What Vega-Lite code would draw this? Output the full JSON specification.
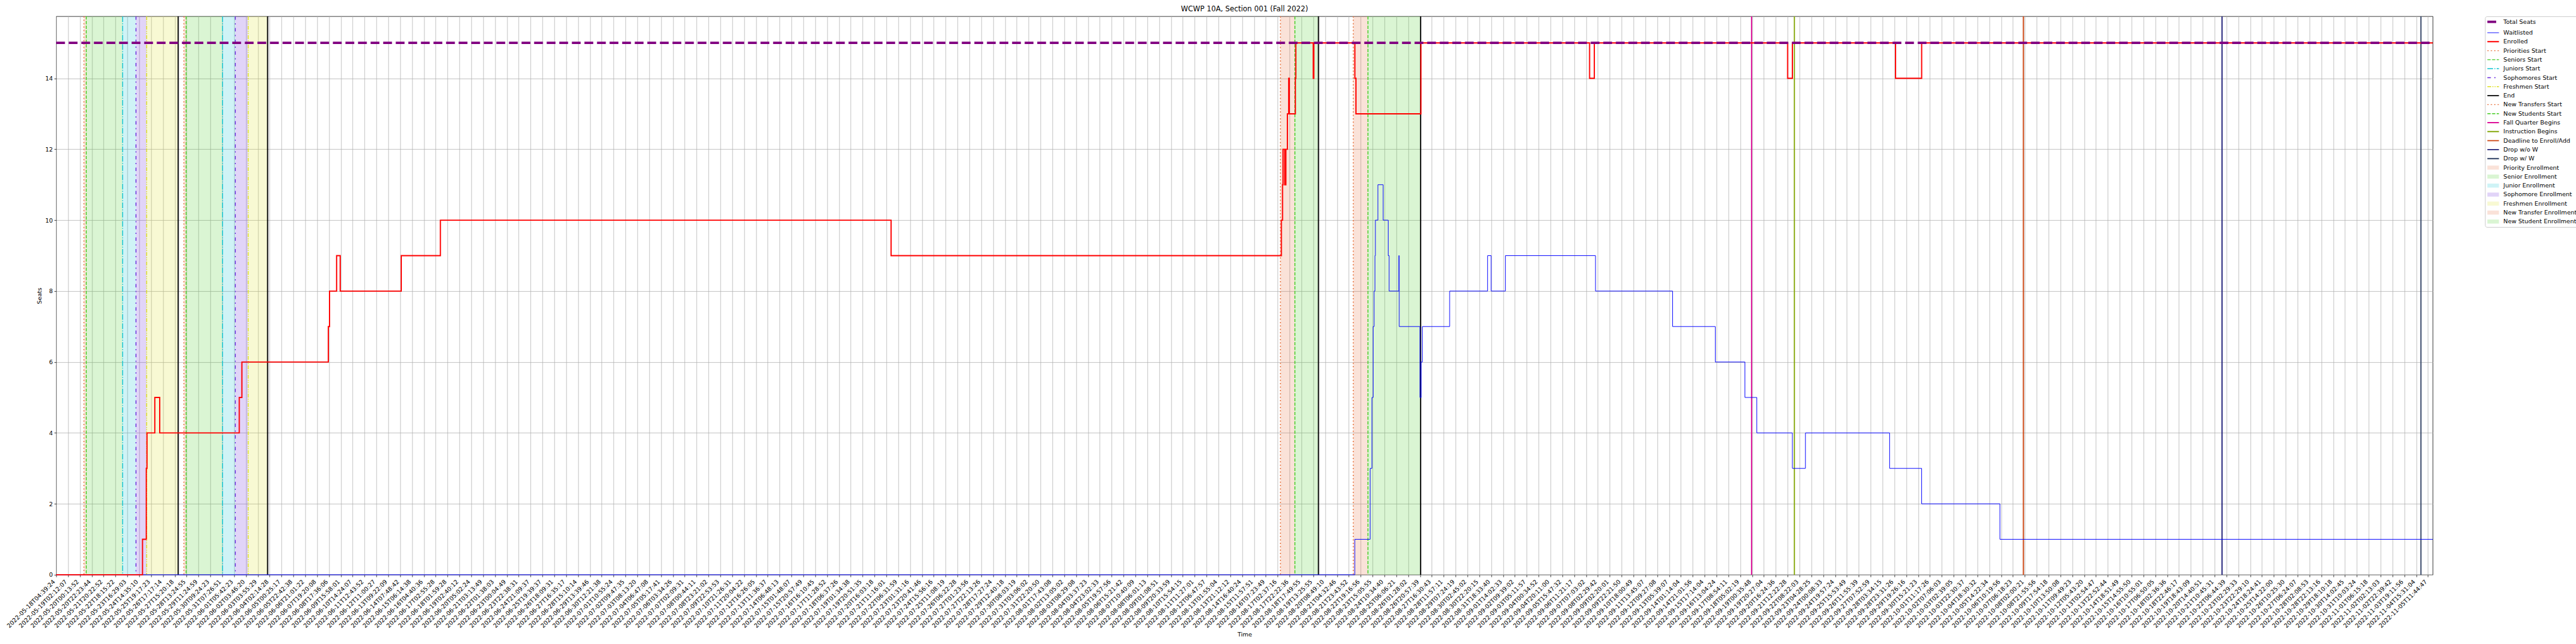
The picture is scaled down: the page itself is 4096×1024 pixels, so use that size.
{
  "$schema": "https://vega.github.io/schema/vega-lite/v6.json",
  "width": 3779,
  "height": 888,
  "autosize": {"type": "none"},
  "padding": {"left": 89.3, "top": 25.9, "right": 227.7, "bottom": 110.1},
  "background": "white",
  "params": [
    {"name": "tl", "value": [
"2022-05-18T04:39:24","2022-05-19T02:12:07","2022-05-20T00:13:52","2022-05-20T22:23:44","2022-05-21T20:22:52","2022-05-22T18:15:22","2022-05-23T16:29:03","2022-05-24T14:35:10","2022-05-25T19:17:23","2022-05-26T17:17:14",
"2022-05-27T15:20:18","2022-05-28T13:24:55","2022-05-29T11:24:59","2022-05-30T09:24:23","2022-05-31T07:26:51","2022-06-01T05:42:23","2022-06-02T03:46:20","2022-06-03T03:55:29","2022-06-04T02:14:28","2022-06-05T00:25:17",
"2022-06-05T22:42:38","2022-06-06T21:01:22","2022-06-07T19:20:08","2022-06-08T17:36:06","2022-06-09T15:58:01","2022-06-10T14:24:07","2022-06-11T12:43:52","2022-06-12T11:00:27","2022-06-13T09:22:09","2022-06-14T07:48:42",
"2022-06-15T06:14:38","2022-06-16T04:40:36","2022-06-17T02:55:28","2022-06-18T01:59:28","2022-06-19T02:40:12","2022-06-20T05:02:24","2022-06-21T03:13:49","2022-06-22T01:38:03","2022-06-23T00:04:49","2022-06-23T22:38:31",
"2022-06-24T21:09:37","2022-06-25T19:39:37","2022-06-26T18:09:31","2022-06-27T16:35:17","2022-06-28T15:10:14","2022-06-29T13:39:46","2022-06-30T12:21:38","2022-07-01T10:55:24","2022-07-02T09:47:35","2022-07-03T08:13:20",
"2022-07-04T06:47:08","2022-07-05T05:17:41","2022-07-06T03:34:26","2022-07-07T02:09:31","2022-07-08T00:44:11","2022-07-08T23:21:02","2022-07-09T22:53:53","2022-07-10T21:26:31","2022-07-11T20:04:22","2022-07-12T16:26:05",
"2022-07-13T11:36:37","2022-07-14T06:48:13","2022-07-15T01:48:07","2022-07-15T20:57:49","2022-07-16T16:10:45","2022-07-17T11:28:52","2022-07-18T06:37:26","2022-07-19T01:34:38","2022-07-19T20:51:35","2022-07-20T16:03:18",
"2022-07-21T11:16:01","2022-07-22T06:31:59","2022-07-23T01:31:16","2022-07-23T20:41:46","2022-07-24T15:56:16","2022-07-25T11:08:19","2022-07-26T06:22:28","2022-07-27T01:23:56","2022-07-27T22:13:26","2022-07-28T17:27:24",
"2022-07-29T12:40:18","2022-07-30T08:03:19","2022-07-31T03:06:02","2022-07-31T22:20:50","2022-08-01T17:43:08","2022-08-02T13:05:02","2022-08-03T08:29:08","2022-08-04T03:37:23","2022-08-04T23:02:33","2022-08-05T19:57:56",
"2022-08-06T15:21:42","2022-08-07T10:40:09","2022-08-08T06:01:13","2022-08-09T01:08:51","2022-08-09T20:33:59","2022-08-10T15:54:15","2022-08-11T11:27:01","2022-08-12T06:47:57","2022-08-13T01:55:04","2022-08-13T21:12:12",
"2022-08-14T16:40:24","2022-08-15T11:57:51","2022-08-16T07:23:49","2022-08-17T02:37:16","2022-08-17T22:22:36","2022-08-18T17:49:55","2022-08-19T13:25:55","2022-08-20T08:49:10","2022-08-21T04:32:46","2022-08-21T23:43:52",
"2022-08-22T19:16:56","2022-08-23T15:05:55","2022-08-24T10:34:40","2022-08-25T06:06:21","2022-08-26T01:28:02","2022-08-26T20:57:39","2022-08-27T16:30:43","2022-08-28T11:57:11","2022-08-29T07:24:19","2022-08-30T02:45:02",
"2022-08-30T22:20:15","2022-08-31T18:33:40","2022-09-01T14:02:33","2022-09-02T09:39:02","2022-09-03T05:11:57","2022-09-04T00:34:52","2022-09-04T20:11:00","2022-09-05T15:47:32","2022-09-06T11:21:17","2022-09-07T07:03:02",
"2022-09-08T02:29:42","2022-09-09T02:20:01","2022-09-09T22:21:50","2022-09-10T18:00:49","2022-09-11T13:45:07","2022-09-12T09:27:08","2022-09-13T05:39:07","2022-09-14T01:14:04","2022-09-14T21:01:56","2022-09-15T17:14:04",
"2022-09-16T13:04:24","2022-09-17T08:54:11","2022-09-18T05:02:19","2022-09-19T00:35:48","2022-09-19T20:27:04","2022-09-20T16:24:36","2022-09-21T12:22:28","2022-09-22T08:22:03","2022-09-23T04:28:25","2022-09-24T00:08:33",
"2022-09-24T19:57:24","2022-09-25T15:53:49","2022-09-26T11:55:39","2022-09-27T07:52:59","2022-09-28T03:34:15","2022-09-28T23:31:26","2022-09-29T19:26:16","2022-09-30T15:21:23","2022-10-01T11:17:26","2022-10-02T07:06:03",
"2022-10-03T02:39:05","2022-10-03T22:30:37","2022-10-04T18:30:32","2022-10-05T14:22:34","2022-10-06T10:19:56","2022-10-07T06:18:23","2022-10-08T02:00:21","2022-10-08T21:55:56","2022-10-09T17:54:18","2022-10-10T13:50:08",
"2022-10-11T09:49:23","2022-10-12T05:43:20","2022-10-13T02:54:47","2022-10-13T22:52:44","2022-10-14T18:51:49","2022-10-15T14:55:50","2022-10-16T10:55:01","2022-10-17T06:50:05","2022-10-18T02:36:36","2022-10-18T22:46:17",
"2022-10-19T18:43:09","2022-10-20T14:40:51","2022-10-21T10:45:31","2022-10-22T06:44:39","2022-10-23T02:29:33","2022-10-23T22:29:10","2022-10-24T18:24:41","2022-10-25T14:22:00","2022-10-26T10:25:30","2022-10-27T06:24:07",
"2022-10-28T02:08:53","2022-10-28T22:13:16","2022-10-29T18:10:18","2022-10-30T14:02:45","2022-10-31T10:03:24","2022-11-01T06:15:18","2022-11-02T02:13:03","2022-11-02T22:39:42","2022-11-03T19:11:56","2022-11-04T15:31:04",
"2022-11-05T11:44:47"]}
  ],
  "title": {"text": "WCWP 10A, Section 001 (Fall 2022)", "fontSize": 11.4, "font": "DejaVu Sans", "fontWeight": "normal", "color": "black", "anchor": "middle", "offset": 5},
  "datasets": {
    "shades": [
      {"series": "Priority Enrollment", "x": 2.34, "x2": 2.54},
      {"series": "Priority Enrollment", "x": 10.77, "x2": 10.96},
      {"series": "Senior Enrollment", "x": 2.54, "x2": 5.6},
      {"series": "Senior Enrollment", "x": 10.96, "x2": 14.02},
      {"series": "Junior Enrollment", "x": 5.6, "x2": 6.73},
      {"series": "Junior Enrollment", "x": 14.02, "x2": 15.11},
      {"series": "Sophomore Enrollment", "x": 6.73, "x2": 7.63},
      {"series": "Sophomore Enrollment", "x": 15.11, "x2": 16.19},
      {"series": "Freshmen Enrollment", "x": 7.63, "x2": 10.29},
      {"series": "Freshmen Enrollment", "x": 16.19, "x2": 17.83},
      {"series": "New Transfer Enrollment", "x": 103.23, "x2": 104.45},
      {"series": "New Transfer Enrollment", "x": 109.37, "x2": 110.61},
      {"series": "New Student Enrollment", "x": 104.45, "x2": 106.44},
      {"series": "New Student Enrollment", "x": 110.61, "x2": 115.05}
    ],
    "vlines": [
      {"series": "Priorities Start", "x": 2.34},
      {"series": "Priorities Start", "x": 10.77},
      {"series": "Seniors Start", "x": 2.54},
      {"series": "Seniors Start", "x": 10.96},
      {"series": "Juniors Start", "x": 5.6},
      {"series": "Juniors Start", "x": 14.02},
      {"series": "Sophomores Start", "x": 6.73},
      {"series": "Sophomores Start", "x": 15.11},
      {"series": "Freshmen Start", "x": 7.63},
      {"series": "Freshmen Start", "x": 16.19},
      {"series": "End", "x": 10.29},
      {"series": "End", "x": 17.83},
      {"series": "End", "x": 106.44},
      {"series": "End", "x": 115.05},
      {"series": "New Transfers Start", "x": 103.23},
      {"series": "New Transfers Start", "x": 109.37},
      {"series": "New Students Start", "x": 104.45},
      {"series": "New Students Start", "x": 110.61},
      {"series": "Fall Quarter Begins", "x": 142.96},
      {"series": "Instruction Begins", "x": 146.57},
      {"series": "Deadline to Enroll/Add", "x": 165.88},
      {"series": "Drop w/o W", "x": 182.63},
      {"series": "Drop w/ W", "x": 199.4}
    ],
    "total": [
      {"series": "Total Seats", "x": 0, "seats": 15},
      {"series": "Total Seats", "x": 200.4, "seats": 15}
    ],
    "enrolled": [
      {"series": "Enrolled", "x": 0, "seats": 0},
      {"series": "Enrolled", "x": 7.28, "seats": 1},
      {"series": "Enrolled", "x": 7.6, "seats": 3},
      {"series": "Enrolled", "x": 7.66, "seats": 4},
      {"series": "Enrolled", "x": 8.32, "seats": 5},
      {"series": "Enrolled", "x": 8.73, "seats": 4},
      {"series": "Enrolled", "x": 15.44, "seats": 5},
      {"series": "Enrolled", "x": 15.66, "seats": 6},
      {"series": "Enrolled", "x": 22.95, "seats": 7},
      {"series": "Enrolled", "x": 23.05, "seats": 8},
      {"series": "Enrolled", "x": 23.65, "seats": 9},
      {"series": "Enrolled", "x": 23.95, "seats": 8},
      {"series": "Enrolled", "x": 29.1, "seats": 9},
      {"series": "Enrolled", "x": 32.4, "seats": 10},
      {"series": "Enrolled", "x": 70.4, "seats": 9},
      {"series": "Enrolled", "x": 103.31, "seats": 10},
      {"series": "Enrolled", "x": 103.41, "seats": 11},
      {"series": "Enrolled", "x": 103.45, "seats": 12},
      {"series": "Enrolled", "x": 103.59, "seats": 11},
      {"series": "Enrolled", "x": 103.69, "seats": 12},
      {"series": "Enrolled", "x": 103.82, "seats": 13},
      {"series": "Enrolled", "x": 103.93, "seats": 14},
      {"series": "Enrolled", "x": 103.98, "seats": 13},
      {"series": "Enrolled", "x": 104.49, "seats": 14},
      {"series": "Enrolled", "x": 104.53, "seats": 15},
      {"series": "Enrolled", "x": 106.0, "seats": 14},
      {"series": "Enrolled", "x": 106.05, "seats": 15},
      {"series": "Enrolled", "x": 109.51, "seats": 14},
      {"series": "Enrolled", "x": 109.6, "seats": 13},
      {"series": "Enrolled", "x": 115.08, "seats": 15},
      {"series": "Enrolled", "x": 129.3, "seats": 14},
      {"series": "Enrolled", "x": 129.7, "seats": 15},
      {"series": "Enrolled", "x": 146.0, "seats": 14},
      {"series": "Enrolled", "x": 146.4, "seats": 15},
      {"series": "Enrolled", "x": 155.1, "seats": 14},
      {"series": "Enrolled", "x": 157.3, "seats": 15},
      {"series": "Enrolled", "x": 200.4, "seats": 15}
    ],
    "waitlisted": [
      {"series": "Waitlisted", "x": 0, "seats": 0},
      {"series": "Waitlisted", "x": 109.5, "seats": 1},
      {"series": "Waitlisted", "x": 110.8, "seats": 3},
      {"series": "Waitlisted", "x": 110.95, "seats": 5},
      {"series": "Waitlisted", "x": 111.05, "seats": 7},
      {"series": "Waitlisted", "x": 111.13, "seats": 8},
      {"series": "Waitlisted", "x": 111.2, "seats": 9},
      {"series": "Waitlisted", "x": 111.24, "seats": 10},
      {"series": "Waitlisted", "x": 111.45, "seats": 11},
      {"series": "Waitlisted", "x": 111.89, "seats": 10},
      {"series": "Waitlisted", "x": 112.32, "seats": 9},
      {"series": "Waitlisted", "x": 112.4, "seats": 8},
      {"series": "Waitlisted", "x": 113.21, "seats": 9},
      {"series": "Waitlisted", "x": 113.25, "seats": 7},
      {"series": "Waitlisted", "x": 115.0, "seats": 5},
      {"series": "Waitlisted", "x": 115.1, "seats": 6},
      {"series": "Waitlisted", "x": 115.2, "seats": 7},
      {"series": "Waitlisted", "x": 117.5, "seats": 8},
      {"series": "Waitlisted", "x": 120.7, "seats": 9},
      {"series": "Waitlisted", "x": 121.0, "seats": 8},
      {"series": "Waitlisted", "x": 122.2, "seats": 9},
      {"series": "Waitlisted", "x": 129.8, "seats": 8},
      {"series": "Waitlisted", "x": 136.3, "seats": 7},
      {"series": "Waitlisted", "x": 139.9, "seats": 6},
      {"series": "Waitlisted", "x": 142.4, "seats": 5},
      {"series": "Waitlisted", "x": 143.4, "seats": 4},
      {"series": "Waitlisted", "x": 146.4, "seats": 3},
      {"series": "Waitlisted", "x": 147.5, "seats": 4},
      {"series": "Waitlisted", "x": 154.6, "seats": 3},
      {"series": "Waitlisted", "x": 157.3, "seats": 2},
      {"series": "Waitlisted", "x": 163.9, "seats": 1},
      {"series": "Waitlisted", "x": 200.4, "seats": 1}
    ]
  },
  "encoding": {
    "x": {
      "field": "x", "type": "quantitative",
      "scale": {"domain": [0, 200.4], "nice": false, "zero": false},
      "axis": {
        "values": [0,1,2,3,4,5,6,7,8,9,10,11,12,13,14,15,16,17,18,19,20,21,22,23,24,25,26,27,28,29,30,31,32,33,34,35,36,37,38,39,40,41,42,43,44,45,46,47,48,49,50,51,52,53,54,55,56,57,58,59,60,61,62,63,64,65,66,67,68,69,70,71,72,73,74,75,76,77,78,79,80,81,82,83,84,85,86,87,88,89,90,91,92,93,94,95,96,97,98,99,100,101,102,103,104,105,106,107,108,109,110,111,112,113,114,115,116,117,118,119,120,121,122,123,124,125,126,127,128,129,130,131,132,133,134,135,136,137,138,139,140,141,142,143,144,145,146,147,148,149,150,151,152,153,154,155,156,157,158,159,160,161,162,163,164,165,166,167,168,169,170,171,172,173,174,175,176,177,178,179,180,181,182,183,184,185,186,187,188,189,190,191,192,193,194,195,196,197,198,199,200],
        "labelExpr": "tl[datum.value]",
        "labelAngle": -45, "labelAlign": "right", "labelBaseline": "bottom",
        "labelPadding": 9.5, "labelOverlap": false, "labelFlush": false, "labelBound": false,
        "title": "Time", "titlePadding": 4
      }
    },
    "color": {
      "field": "series", "type": "nominal",
      "scale": {
        "domain": ["Total Seats","Waitlisted","Enrolled","Priorities Start","Seniors Start","Juniors Start","Sophomores Start","Freshmen Start","End","New Transfers Start","New Students Start","Fall Quarter Begins","Instruction Begins","Deadline to Enroll/Add","Drop w/o W","Drop w/ W","Priority Enrollment","Senior Enrollment","Junior Enrollment","Sophomore Enrollment","Freshmen Enrollment","New Transfer Enrollment","New Student Enrollment"],
        "range": ["#800080","#0000ff","#ff0000","#e8703a","#44cc22","#11c4d0","#6a2adc","#dde022","#000000","#e8703a","#44cc22","#dd1199","#88aa11","#cc4411","#22227a","#334466","#e8703a","#44cc22","#11c4d0","#6a2adc","#dde022","#e8703a","#44cc22"]
      },
      "legend": {
        "orient": "right", "offset": 75, "title": null,
        "labelFontSize": 9.5, "labelColor": "black", "labelLimit": 400,
        "rowPadding": 4.3, "padding": 3.8,
        "strokeColor": "#cccccc", "fillColor": "white", "cornerRadius": 3,
        "symbolSize": 339, "symbolType": "stroke",
        "encode": {
          "symbols": {
            "update": {
              "x": {"value": 9.2},
              "y": {"value": 5},
              "size": {"value": 339},
              "shape": {"signal": "indexof(domain('color'), datum.value) >= 16 ? 'M-1,-0.35H1V0.35H-1Z' : 'stroke'"},
              "fill": {"signal": "indexof(domain('color'), datum.value) >= 16 ? scale('color', datum.value) : 'transparent'"},
              "fillOpacity": {"signal": "indexof(domain('color'), datum.value) >= 16 ? 0.2 : 1"},
              "stroke": {"signal": "indexof(domain('color'), datum.value) >= 16 ? 'transparent' : scale('color', datum.value)"},
              "opacity": {"value": 1},
              "strokeWidth": {"signal": "[3.8,0.95,1.9,1.4,1.4,1.4,1.4,1.4,1.9,1.4,1.4,1.9,1.9,1.9,1.9,1.9,0,0,0,0,0,0,0][indexof(domain('color'), datum.value)]"},
              "strokeDash": {"signal": "[[14,6],[1,0],[1,0],[2,3.4],[5.2,2.2],[9,2.2,1.4,2.2],[5.5,5.5,2,5.5],[6,2,1.5,2,1.5,2],[1,0],[2,3.4],[5.2,2.2],[1,0],[1,0],[1,0],[1,0],[1,0],[1,0],[1,0],[1,0],[1,0],[1,0],[1,0],[1,0]][indexof(domain('color'), datum.value)]"}
            }
          },
          "labels": {
            "update": {
              "x": {"value": 25.5},
              "y": {"value": 5},
              "baseline": {"value": "middle"}
            }
          }
        }
      }
    }
  },
  "layer": [
    {
      "data": {"name": "shades"},
      "mark": {"type": "rect", "opacity": 0.2},
      "encoding": {"x2": {"field": "x2"}}
    },
    {
      "data": {"name": "vlines"},
      "transform": [{"filter": {"field": "series", "oneOf": ["Priorities Start", "New Transfers Start"]}}],
      "mark": {"type": "rule", "strokeWidth": 1.4, "strokeDash": [2, 3.4]},
      "encoding": {}
    },
    {
      "data": {"name": "vlines"},
      "transform": [{"filter": {"field": "series", "oneOf": ["Seniors Start", "New Students Start"]}}],
      "mark": {"type": "rule", "strokeWidth": 1.4, "strokeDash": [5.2, 2.2]},
      "encoding": {}
    },
    {
      "data": {"name": "vlines"},
      "transform": [{"filter": {"field": "series", "oneOf": ["Juniors Start"]}}],
      "mark": {"type": "rule", "strokeWidth": 1.4, "strokeDash": [9, 2.2, 1.4, 2.2]},
      "encoding": {}
    },
    {
      "data": {"name": "vlines"},
      "transform": [{"filter": {"field": "series", "oneOf": ["Sophomores Start"]}}],
      "mark": {"type": "rule", "strokeWidth": 1.4, "strokeDash": [5.5, 5.5, 2, 5.5]},
      "encoding": {}
    },
    {
      "data": {"name": "vlines"},
      "transform": [{"filter": {"field": "series", "oneOf": ["Freshmen Start"]}}],
      "mark": {"type": "rule", "strokeWidth": 1.4, "strokeDash": [6, 2, 1.5, 2, 1.5, 2]},
      "encoding": {}
    },
    {
      "data": {"name": "vlines"},
      "transform": [{"filter": {"field": "series", "oneOf": ["End", "Fall Quarter Begins", "Instruction Begins", "Deadline to Enroll/Add", "Drop w/o W", "Drop w/ W"]}}],
      "mark": {"type": "rule", "strokeWidth": 1.9},
      "encoding": {}
    },
    {
      "encoding": {
        "y": {
          "field": "seats", "type": "quantitative",
          "scale": {"domain": [0, 15.75], "nice": false, "zero": true},
          "axis": {"values": [0, 2, 4, 6, 8, 10, 12, 14], "title": "Seats", "titlePadding": 3.8, "labelPadding": 2.4}
        }
      },
      "layer": [
        {"data": {"name": "waitlisted"}, "mark": {"type": "line", "interpolate": "step-after", "strokeWidth": 0.95}, "encoding": {}},
        {"data": {"name": "enrolled"}, "mark": {"type": "line", "interpolate": "step-after", "strokeWidth": 1.9}, "encoding": {}},
        {"data": {"name": "total"}, "mark": {"type": "line", "strokeWidth": 3.8, "strokeDash": [14, 6]}, "encoding": {}}
      ]
    }
  ],
  "config": {
    "font": "DejaVu Sans",
    "view": {"stroke": "black", "strokeWidth": 0.76},
    "axis": {
      "labelFontSize": 9.5, "labelColor": "black", "labelFont": "DejaVu Sans",
      "tickColor": "black", "tickWidth": 0.76, "tickSize": 3.3,
      "grid": true, "gridColor": "#b0b0b0", "gridWidth": 0.76,
      "domain": false,
      "titleFontSize": 9.5, "titleFontWeight": "normal", "titleColor": "black", "titleFont": "DejaVu Sans"
    },
    "legend": {"labelFont": "DejaVu Sans"}
  }
}
